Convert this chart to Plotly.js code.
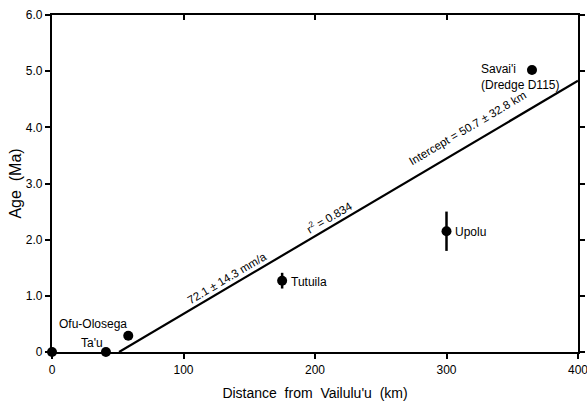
<!DOCTYPE html>
<html>
<head>
<meta charset="utf-8">
<script src="https://cdn.plot.ly/plotly-3.0.1.min.js"></script>
<style>html,body{margin:0;padding:0;background:#fff;}#chart{width:587px;height:407px;}</style>
</head>
<body>
<div id="chart"></div>
<script>
// Data (distance from Vailulu'u in km, age in Ma)
var islands = ["Vailulu'u", "Ta'u", "Ofu-Olosega", "Tutuila", "Upolu", "Savai'i"];
var distance = [0, 41, 58, 175, 300, 365];
var age = [0, 0, 0.29, 1.27, 2.15, 5.02];
var ageErr = [0, 0, 0.06, 0.14, 0.35, 0];

// Regression line endpoints
var fitX = [51, 400];
var fitY = [0, 4.83];

var xTicks = [0, 100, 200, 300, 400];
var xTickText = ["0", "100", "200", "300", "400"];
var yTicks = [0, 1, 2, 3, 4, 5, 6];
var yTickText = ["0", "1.0", "2.0", "3.0", "4.0", "5.0", "6.0"];

var FONT = "Liberation Sans, Arial, Helvetica, sans-serif";

var traces = [
  {
    x: fitX, y: fitY, mode: "lines", type: "scatter",
    line: {color: "#000", width: 2.2}, hoverinfo: "skip", showlegend: false, cliponaxis: false
  },
  {
    x: distance, y: age, mode: "markers", type: "scatter", text: islands,
    marker: {color: "#000", size: 10},
    error_y: {type: "data", array: ageErr, visible: true, color: "#000", thickness: 2.5, width: 0},
    showlegend: false, cliponaxis: false
  },
  {
    x: [0], y: [0], xaxis: "x2", yaxis: "y2", mode: "markers",
    marker: {opacity: 0}, showlegend: false, hoverinfo: "skip"
  }
];

var ann = function(x, y, text, opts) {
  var a = {x: x, y: y, xref: "x", yref: "y", text: text, showarrow: false,
           font: {family: FONT, size: 12, color: "#000"}};
  for (var k in opts) a[k] = opts[k];
  return a;
};

var ang = -30.6;
var rotFont = {family: FONT, size: 11.5, color: "#000"};
var layout = {
  width: 587, height: 407,
  margin: {l: 52, r: 9, t: 15, b: 55},
  paper_bgcolor: "#fff", plot_bgcolor: "#fff",
  font: {family: FONT, size: 12, color: "#000"},
  xaxis: {
    range: [0, 400], tickvals: xTicks, ticktext: xTickText,
    showline: true, linecolor: "#000", linewidth: 2.2,
    ticks: "outside", ticklen: 5, tickwidth: 2, tickcolor: "#000",
    showgrid: false, zeroline: false, fixedrange: true,
    ticklabeloverflow: "allow",
    tickfont: {family: FONT, size: 12},
    title: {text: "Distance\u00a0\u00a0from\u00a0\u00a0Vailulu'u\u00a0\u00a0(km)", font: {family: FONT, size: 14}, standoff: 13}
  },
  yaxis: {
    range: [0, 6], tickvals: yTicks, ticktext: yTickText,
    showline: true, linecolor: "#000", linewidth: 2.2,
    ticks: "outside", ticklen: 5, tickwidth: 2, tickcolor: "#000",
    showgrid: false, zeroline: false, fixedrange: true,
    tickfont: {family: FONT, size: 12},
    title: {text: "Age\u00a0\u00a0(Ma)", font: {family: FONT, size: 16}, standoff: 0}
  },
  xaxis2: {
    range: [0, 400], overlaying: "x", side: "top", tickvals: xTicks,
    showticklabels: false, showline: true, linecolor: "#000", linewidth: 2.2,
    ticks: "inside", ticklen: 5, tickwidth: 2, tickcolor: "#000",
    showgrid: false, zeroline: false, fixedrange: true
  },
  yaxis2: {
    range: [0, 6], overlaying: "y", side: "right", tickvals: yTicks,
    showticklabels: false, showline: true, linecolor: "#000", linewidth: 2.2,
    ticks: "outside", ticklen: 5, tickwidth: 2, tickcolor: "#000",
    showgrid: false, zeroline: false, fixedrange: true
  },
  annotations: [
    ann(133.2, 1.32, "72.1 \u00b1 14.3 mm/a", {textangle: ang, font: rotFont}),
    ann(210.7, 2.40, "r<sup>2</sup> = 0.834", {textangle: ang, font: rotFont}),
    ann(316.2, 3.98, "Intercept = 50.7 \u00b1 32.8 km", {textangle: ang, font: rotFont}),
    ann(324.7, 4.9, "Savai'i<br>(Dredge D115)", {xanchor: "left", align: "left"}),
    ann(305, 2.14, "Upolu", {xanchor: "left"}),
    ann(180, 1.25, "Tutuila", {xanchor: "left"}),
    ann(58.6, 0.5, "Ofu-Olosega", {xanchor: "right"}),
    ann(40.3, 0.16, "Ta'u", {xanchor: "right"})
  ]
};

Plotly.newPlot("chart", traces, layout, {displayModeBar: false, staticPlot: true});
</script>
</body>
</html>
